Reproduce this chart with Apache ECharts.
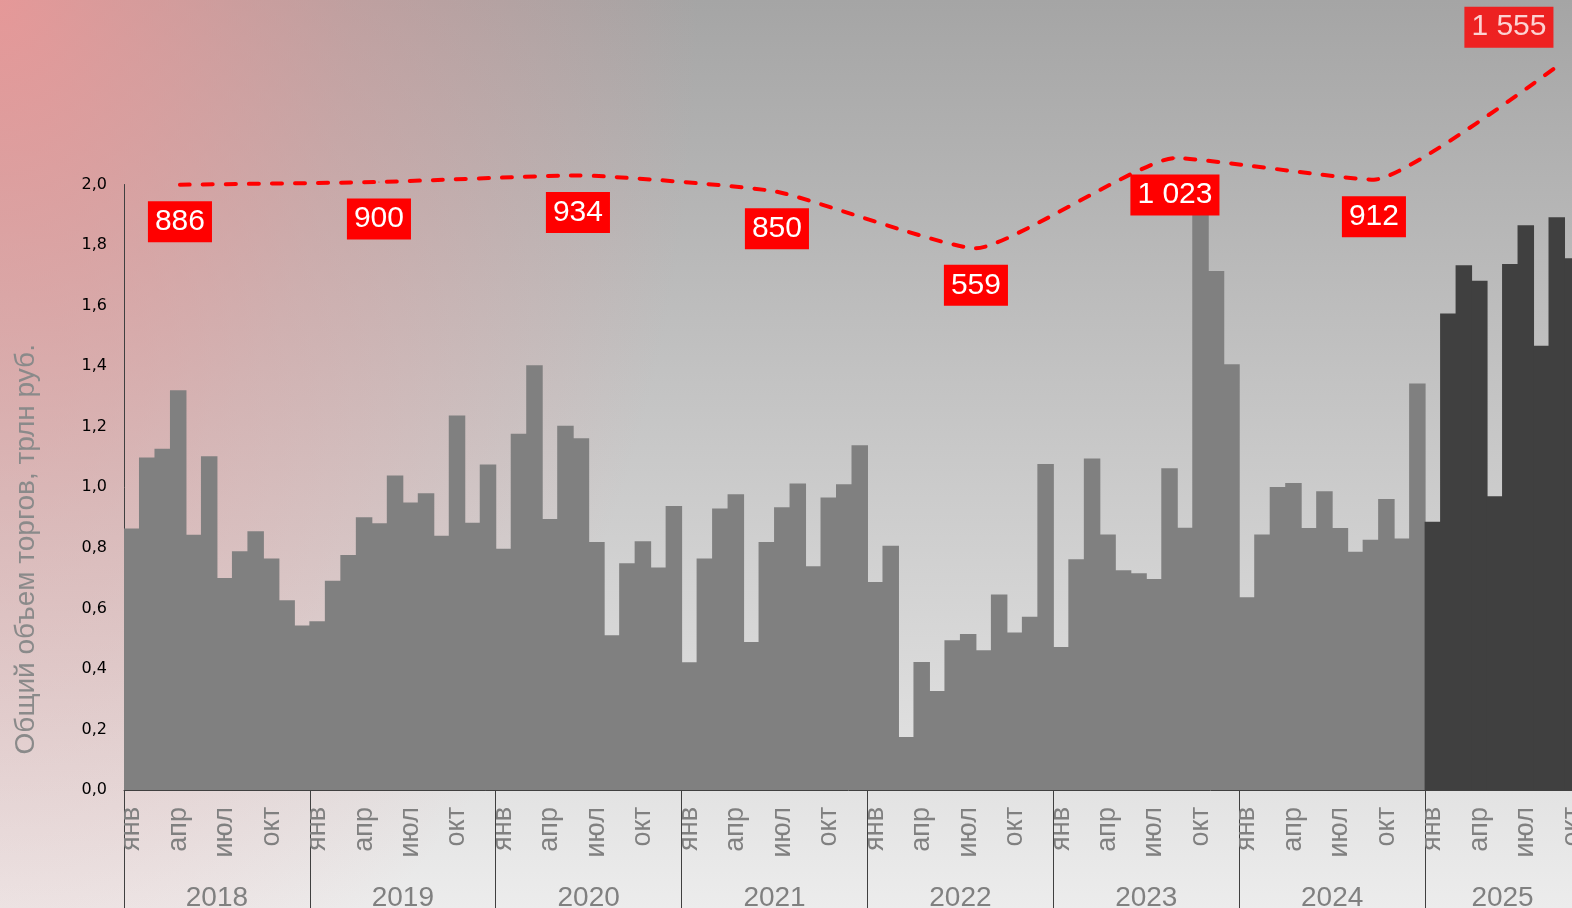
<!DOCTYPE html>
<html>
<head>
<meta charset="utf-8">
<script src="https://cdn.jsdelivr.net/npm/echarts@6/dist/echarts.min.js"></script>
<style>
  html, body { margin: 0; padding: 0; }
  #chart { width: 1572px; height: 908px; }
</style>
</head>
<body>
<div id="chart"></div>
<script>
// подписи оси
var years = ['2018', '2019', '2020', '2021', '2022', '2023', '2024', '2025'];
var monthNames = ['янв', 'фев', 'мар', 'апр', 'май', 'июн', 'июл', 'авг', 'сен', 'окт', 'ноя', 'дек'];

// объем торгов по месяцам, трлн руб.
var vol2018 = [0.864, 1.098, 1.127, 1.320, 0.843, 1.102, 0.700, 0.789, 0.855, 0.765, 0.627, 0.543];
var vol2019 = [0.557, 0.691, 0.776, 0.901, 0.881, 1.039, 0.950, 0.980, 0.840, 1.237, 0.883, 1.075];
var vol2020 = [0.797, 1.177, 1.403, 0.895, 1.203, 1.162, 0.819, 0.511, 0.749, 0.822, 0.735, 0.938];
var vol2021 = [0.422, 0.765, 0.930, 0.977, 0.489, 0.819, 0.934, 1.012, 0.739, 0.966, 1.010, 1.139];
var vol2022 = [0.687, 0.807, 0.175, 0.423, 0.327, 0.495, 0.515, 0.462, 0.646, 0.520, 0.572, 1.077];
var vol2023 = [0.472, 0.762, 1.095, 0.844, 0.726, 0.716, 0.697, 1.063, 0.866, 1.960, 1.714, 1.406];
var vol2024 = [0.637, 0.844, 1.001, 1.014, 0.865, 0.987, 0.865, 0.787, 0.827, 0.961, 0.831, 1.343];
var vol2025 = [0.886, 1.574, 1.733, 1.682, 0.970, 1.737, 1.865, 1.467, 1.892, 1.756];

// годовой объем, млрд руб. (пунктир)
var yearTotals = [886, 900, 934, 850, 559, 1023, 912, 1555];

var monthly = [vol2018, vol2019, vol2020, vol2021, vol2022, vol2023, vol2024, vol2025];
var categories = [];
var values = [];
monthly.forEach(function (arr, y) {
  arr.forEach(function (v, m) {
    categories.push(monthNames[m]);
    values.push(v);
  });
});
var firstDark = 84; // с янв 2025 темные столбцы

function fmtNum(v) {
  return String(v).replace(/\B(?=(\d{3})+(?!\d))/g, ' ');
}

var barData = values.map(function (v, i) {
  var c = i >= firstDark ? '#404040' : '#808080';
  return { value: v, itemStyle: { color: c } };
});

var labelStyle = {
  show: true,
  position: 'bottom',
  distance: 16,
  color: '#fff',
  backgroundColor: '#ff0000',
  fontFamily: 'Liberation Sans',
  fontSize: 30,
  lineHeight: 31,
  padding: [5, 7, 5, 7],
  formatter: function (p) { return fmtNum(p.value[1]); }
};

var lineData = yearTotals.map(function (v, i) {
  var item = { value: [i, v] };
  if (i === yearTotals.length - 1) item.label = { show: false };
  return item;
});

var chart = echarts.init(document.getElementById('chart'));

var option = {
  animation: false,
  graphic: [
    {
      type: 'rect', z: -20, silent: true,
      shape: { x: 0, y: 0, width: 1572, height: 908 },
      style: {
        fill: {
          type: 'linear', x: 0, y: 0, x2: 0, y2: 1,
          colorStops: [
            { offset: 0, color: '#a5a5a5' },
            { offset: 1, color: '#ececec' }
          ]
        }
      }
    },
    {
      type: 'rect', z: -19, silent: true,
      scaleY: 1.55,
      shape: { x: 0, y: 0, width: 700, height: 700 },
      style: {
        fill: {
          type: 'radial', x: 0, y: 0, r: 1,
          colorStops: [
            { offset: 0, color: 'rgba(240,150,150,0.85)' },
            { offset: 0.5, color: 'rgba(240,150,150,0.35)' },
            { offset: 1, color: 'rgba(240,150,150,0)' }
          ]
        }
      }
    }
  ],
  grid: [
    { left: 124, right: -8, top: 184.5, bottom: 118, outerBoundsMode: 'none', containLabel: false },
    { left: 170, right: 15, top: 7, bottom: 551, outerBoundsMode: 'none', containLabel: false }
  ],
  xAxis: [
    {
      type: 'category',
      gridIndex: 0,
      data: categories,
      boundaryGap: true,
      axisLine: { show: true, lineStyle: { color: '#404040', width: 1 } },
      axisTick: {
        show: true,
        length: 120,
        interval: function (i) { return i % 12 === 0; },
        lineStyle: { color: '#404040', width: 1 }
      },
      axisLabel: {
        interval: function (i) { return i % 3 === 0; },
        rotate: 90,
        margin: 17,
        color: '#808080',
        fontFamily: 'Liberation Sans',
        fontSize: 27
      }
    },
    {
      type: 'category',
      gridIndex: 0,
      position: 'bottom',
      offset: 86,
      data: categories,
      axisLine: { show: false },
      axisTick: { show: false },
      axisLabel: {
        interval: function (i) {
          return i < firstDark ? i % 12 === 6 : i === firstDark + 5;
        },
        margin: 8,
        color: '#808080',
        fontFamily: 'Liberation Sans',
        fontSize: 28,
        padding: [0, 15.5, 0, 0],
        formatter: function (v, i) { return years[Math.floor(i / 12)]; }
      }
    },
    {
      type: 'value',
      gridIndex: 1,
      min: -0.05,
      max: 6.92,
      show: false
    }
  ],
  yAxis: [
    {
      type: 'value',
      gridIndex: 0,
      min: 0,
      max: 2,
      interval: 0.2,
      name: 'Общий объем торгов, трлн руб.',
      nameLocation: 'middle',
      nameRotate: 90,
      nameGap: 84,
      nameTextStyle: {
        color: '#8a8a8a',
        fontFamily: 'Liberation Sans',
        fontSize: 28,
        padding: [0, 124, 0, 0]
      },
      axisLine: { show: true, lineStyle: { color: '#404040', width: 1 } },
      axisTick: { show: false },
      splitLine: { show: false },
      axisLabel: {
        margin: 17,
        color: '#000',
        fontFamily: 'DejaVu Sans',
        fontSize: 16,
        formatter: function (v) { return v.toFixed(1).replace('.', ','); }
      }
    },
    {
      type: 'value',
      gridIndex: 1,
      min: 0,
      max: 1800,
      show: false
    }
  ],
  series: [
    {
      type: 'bar',
      xAxisIndex: 0,
      yAxisIndex: 0,
      data: barData,
      barWidth: 16.5,
      barGap: 0,
      z: 2
    },
    {
      type: 'line',
      xAxisIndex: 2,
      yAxisIndex: 1,
      data: lineData,
      smooth: 0.15,
      clip: true,
      symbol: 'circle',
      symbolSize: 1,
      z: 5,
      itemStyle: { color: '#ff0000' },
      lineStyle: { color: '#ff0000', width: 4, type: [10, 13], cap: 'round' },
      label: labelStyle
    },
    {
      type: 'scatter',
      xAxisIndex: 2,
      yAxisIndex: 1,
      clip: false,
      symbolSize: 0,
      z: 6,
      data: [[yearTotals.length - 1, yearTotals[yearTotals.length - 1]]],
      label: Object.assign({}, labelStyle, { position: 'top', distance: 7, offset: [-64, 0] })
    }
  ]
};

chart.setOption(option);
</script>
</body>
</html>
